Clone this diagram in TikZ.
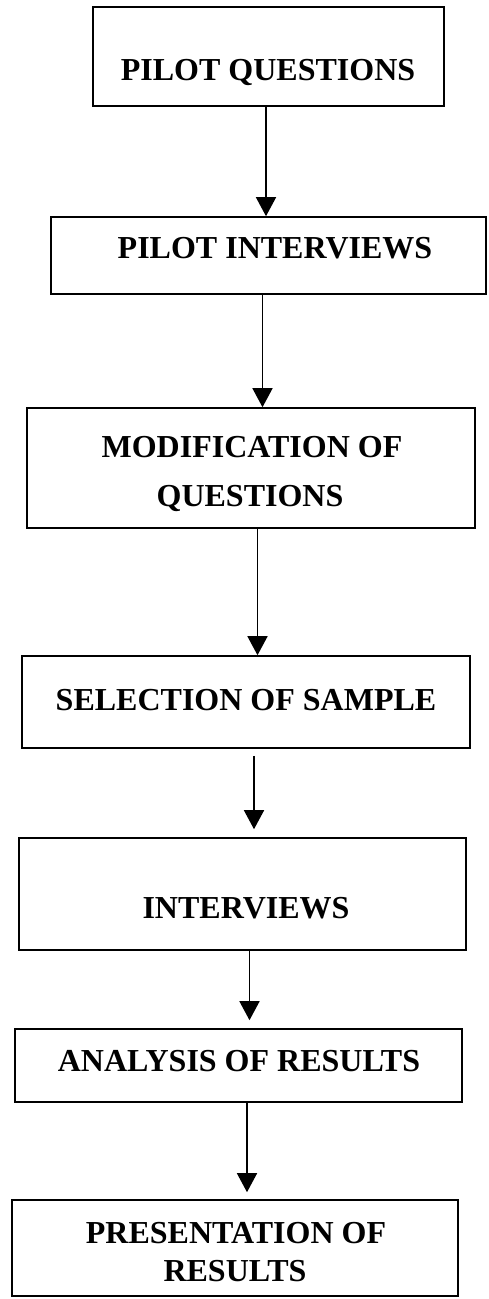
\documentclass[tikz,border=0pt]{standalone}
\usepackage{fontspec}
\setmainfont{Liberation Serif}
\usetikzlibrary{arrows.meta}
\begin{document}
\begin{tikzpicture}[x=1pt,y=1pt,
  box/.style={draw, line width=1.6pt, inner sep=0pt},
  lbl/.style={font=\fontsize{32}{36}\selectfont\bfseries, anchor=base, inner sep=0pt},
  arr/.style={line width=1.5pt, -{Triangle[width=20pt,length=19pt]}}]
\useasboundingbox (0,0) rectangle (488,-1299);
% boxes
\node[box, minimum width=351pt, minimum height=99pt]  (b1) at (268.5,-56.5) {};
\node[box, minimum width=435pt, minimum height=77pt]  (b2) at (268.5,-255.5) {};
\node[box, minimum width=448pt, minimum height=120pt] (b3) at (251,-468) {};
\node[box, minimum width=448pt, minimum height=92pt]  (b4) at (246,-702) {};
\node[box, minimum width=447pt, minimum height=112pt] (b5) at (242.5,-894) {};
\node[box, minimum width=447pt, minimum height=73pt]  (b6) at (238.5,-1065.5) {};
\node[box, minimum width=446pt, minimum height=96pt]  (b7) at (235,-1248) {};
% labels
\node[lbl] (t1)  at (268,-80)   {PILOT QUESTIONS};
\node[lbl] (t2)  at (275,-258)  {PILOT INTERVIEWS};
\node[lbl] (t3a) at (252,-457)  {MODIFICATION OF};
\node[lbl] (t3b) at (250,-506)  {QUESTIONS};
\node[lbl] (t4)  at (246,-710)  {SELECTION OF SAMPLE};
\node[lbl] (t5)  at (246,-918)  {INTERVIEWS};
\node[lbl] (t6)  at (239,-1071) {ANALYSIS OF RESULTS};
\node[lbl] (t7a) at (236,-1243) {PRESENTATION OF};
\node[lbl] (t7b) at (235,-1281) {RESULTS};
% arrow x positions
\coordinate (x1) at (266,0);
\coordinate (x2) at (262.5,0);
\coordinate (x3) at (257.5,0);
\coordinate (x4) at (254,0);
\coordinate (x5) at (249.5,0);
\coordinate (x6) at (247,0);
% arrows
\draw[arr] (b1.south -| x1) -- (b2.north -| x1);
\draw[arr] (b2.south -| x2) -- (b3.north -| x2);
\draw[arr] (b3.south -| x3) -- (b4.north -| x3);
\draw[arr] ([yshift=-7pt]b4.south -| x4) -- ([yshift=8pt]b5.north -| x4);
\draw[arr] (b5.south -| x5) -- ([yshift=8pt]b6.north -| x5);
\draw[arr] (b6.south -| x6) -- ([yshift=7pt]b7.north -| x6);
\end{tikzpicture}
\end{document}
